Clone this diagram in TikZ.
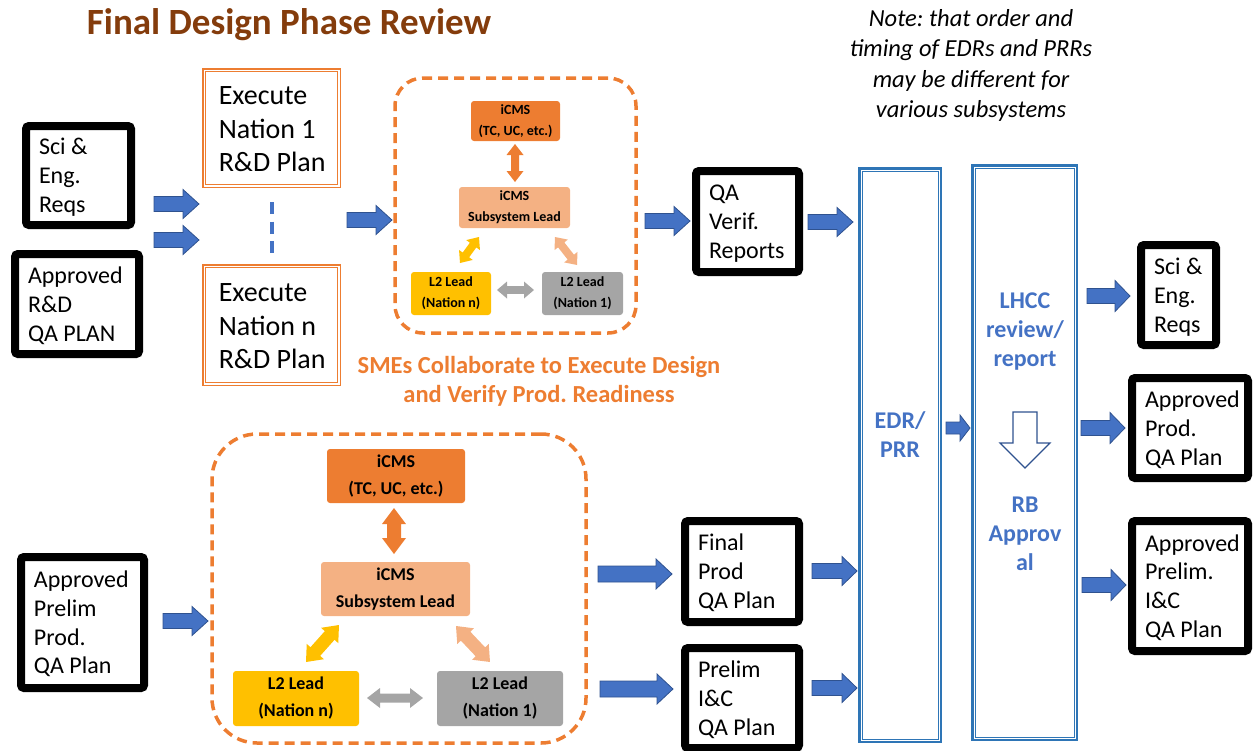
\documentclass[tikz,border=0pt]{standalone}
\usepackage{fontspec}
\setmainfont{Carlito}
\usetikzlibrary{calc}
\frenchspacing

\definecolor{titlebrown}{HTML}{843C0C}
\definecolor{accent}{HTML}{ED7D31}
\definecolor{peach}{HTML}{F4B183}
\definecolor{gold}{HTML}{FFC000}
\definecolor{midgray}{HTML}{A5A5A5}
\definecolor{arrowblue}{HTML}{4472C4}
\definecolor{arrowedge}{HTML}{2F528F}
\definecolor{colblue}{HTML}{2E75B6}

% left-aligned stack of lines in a box of fixed width, lowered slightly
% (the reported height and depth stay those of the unlowered stack)
\newcommand\leftlines[3][-2.5pt]{\raisebox{#1}[\height][\depth]{\makebox[#2][l]{\begin{tabular}{@{}l@{}}#3\end{tabular}}}}

\tikzset{
  blackbox/.style={draw=black, line width=8pt, rounded corners=3pt, fill=white,
    inner xsep=13pt, inner ysep=0pt, font=\fontsize{24}{28.8}\selectfont},
  execbox/.style={draw=accent, line width=1.5pt, fill=white,
    inner xsep=16pt, inner ysep=0pt, font=\fontsize{28}{33.5}\selectfont},
  innerline/.style={draw=accent, line width=1pt},
  dashbox/.style={draw=accent, line width=3.5pt, dash pattern=on 10pt off 6pt},
  rolebox/.style={rounded corners=3pt, inner sep=0pt, align=flush center},
  smallrole/.style={rolebox, font=\fontsize{14}{21}\selectfont\bfseries},
  bigrole/.style={rolebox, font=\fontsize{18}{27}\selectfont\bfseries},
  column/.style={draw=colblue, line width=2.5pt},
  colinner/.style={draw=colblue, line width=1pt},
  coltext/.style={text=arrowblue, font=\fontsize{24}{29}\selectfont\bfseries, align=flush center},
  barrow/.style={fill=arrowblue, draw=arrowedge, line width=0.8pt},
  sepline/.style={draw=arrowblue, line width=4pt, dash pattern=on 12pt off 7.5pt},
}

% block arrow pointing right: x1, x2, y, shaft half, head half, head length
\newcommand\rarrow[6]{%
  \filldraw[barrow] (#1,{#3+#4}) -- ({#2-#6},{#3+#4}) -- ({#2-#6},{#3+#5})
    -- (#2,#3) -- ({#2-#6},{#3-#5}) -- ({#2-#6},{#3-#4}) -- (#1,{#3-#4}) -- cycle;}

% two-headed block arrow: style, x1, y1, x2, y2, shaft half, head half, head length
\newcommand\twoway[8]{%
  \pgfmathsetmacro\twA{atan2((#5)-(#3),(#4)-(#2))}%
  \pgfmathsetmacro\twL{veclen((#4)-(#2),(#5)-(#3))}%
  \begin{scope}[shift={(#2,#3)},rotate=\twA]
    \fill[#1] (0,0) -- (#8,#7) -- (#8,#6) -- ({\twL-#8},#6) -- ({\twL-#8},#7)
      -- (\twL,0) -- ({\twL-#8},-#7) -- ({\twL-#8},-#6) -- (#8,-#6) -- (#8,-#7) -- cycle;
  \end{scope}}

\begin{document}
\begin{tikzpicture}[x=1pt,y=1pt]
\useasboundingbox (0,0) rectangle (1256,-750);

% title and note
\node[font=\fontsize{37}{44}\selectfont\bfseries, text=titlebrown] (title) at (289,-25) {Final Design Phase Review};
\node[font=\fontsize{24.5}{30.5}\selectfont\itshape, align=flush center] (note) at (971,-65.5)
  {Note: that order and\\timing of EDRs and PRRs\\may be different for\\various subsystems};

% inputs, upper flow
\node[blackbox, minimum height=99pt] (sci) at (78.5,-175.5) {\leftlines{79pt}{Sci \&\\Eng.\\Reqs}};
\node[blackbox, minimum height=100pt] (rdqa) at (77,-304) {\leftlines{98pt}{Approved\\R\&D\\QA PLAN}};

% national R&D plans
\node[execbox, minimum height=118.5pt] (exec1) at (271.5,-128) {\leftlines[-3.5pt]{105.5pt}{Execute\\Nation 1\\R\&D Plan}};
\node[execbox, minimum height=120.5pt] (execn) at (271.5,-325) {\leftlines[-3.5pt]{105.5pt}{Execute\\Nation n\\R\&D Plan}};
\draw[innerline] ([shift={(3.5,-3.5)}]exec1.north west) rectangle ([shift={(-3.5,3.5)}]exec1.south east);
\draw[innerline] ([shift={(3.5,-3.5)}]execn.north west) rectangle ([shift={(-3.5,3.5)}]execn.south east);
\draw[sepline, shorten <=14pt, shorten >=11pt] (exec1.south) -- (execn.north);

% upper collaboration group
\node[dashbox, rounded corners=28pt, minimum width=241pt, minimum height=255pt] (collab1) at (515.5,-205.5) {};
\node[smallrole, fill=accent, minimum width=89pt, minimum height=40pt] (icmsA) at (515.5,-121) {iCMS\\(TC, UC, etc.)};
\node[smallrole, fill=peach, minimum width=111pt, minimum height=41pt] (subA) at (514.5,-207.5) {iCMS\\Subsystem Lead};
\node[smallrole, fill=gold, minimum width=80pt, minimum height=43pt] (l2nA) at (451,-293.5) {L2 Lead\\(Nation n)};
\node[smallrole, fill=midgray, minimum width=81pt, minimum height=43pt] (l21A) at (582.5,-293.5) {L2 Lead\\(Nation 1)};
\twoway{fill=accent}{515}{-144}{515}{-182}{4}{8.5}{11}
\twoway{fill=gold}{460}{-263}{479}{-237}{4}{8.5}{10}
\twoway{fill=peach}{555}{-237}{577}{-265}{4}{8.5}{10}
\twoway{fill=midgray}{497}{-290}{534}{-290}{3.8}{8.5}{10}
\node[font=\fontsize{24.5}{29}\selectfont\bfseries, text=accent, align=flush center] (smes) at (539,-381.5)
  {SMEs Collaborate to Execute Design\\and Verify Prod. Readiness};

\node[blackbox, minimum height=101pt] (qav) at (747.5,-221.5) {\leftlines{77pt}{QA\\Verif.\\Reports}};

% lower flow
\node[blackbox, minimum height=131pt] (prelimprod) at (82.5,-622.5) {\leftlines{97pt}{Approved\\Prelim\\Prod.\\QA Plan}};
\node[dashbox, rounded corners=45pt, minimum width=374pt, minimum height=309pt] (collab2) at (399,-588.5) {};
\node[bigrole, fill=accent, minimum width=138pt, minimum height=54pt] (icmsB) at (396,-476) {iCMS\\(TC, UC, etc.)};
\node[bigrole, fill=peach, minimum width=149pt, minimum height=54pt] (subB) at (395.5,-589) {iCMS\\Subsystem Lead};
\node[bigrole, fill=gold, minimum width=126pt, minimum height=55pt] (l2nB) at (296,-698.5) {L2 Lead\\(Nation n)};
\node[bigrole, fill=midgray, minimum width=126pt, minimum height=55pt] (l21B) at (500,-698.5) {L2 Lead\\(Nation 1)};
\twoway{fill=accent}{394}{-508}{394}{-554}{7}{12}{16}
\twoway{fill=gold}{306}{-662}{339}{-625}{6.5}{11.5}{14}
\twoway{fill=peach}{456}{-626}{490}{-662}{6.5}{11.5}{14}
\twoway{fill=midgray}{367}{-698}{423}{-698}{4.5}{10}{13}

\node[blackbox, minimum height=101pt] (finalprod) at (742,-571.5) {\leftlines{88pt}{Final\\Prod\\QA Plan}};
\node[blackbox, minimum height=100pt] (prelimic) at (742,-698) {\leftlines{88pt}{Prelim\\I\&C\\QA Plan}};

% review columns
\node[column, minimum width=81.5pt, minimum height=573.5pt] (edr) at (900,-455) {};
\draw[colinner] ([shift={(4,-4)}]edr.north west) rectangle ([shift={(-4,4)}]edr.south east);
\node[column, minimum width=104.5pt, minimum height=574.5pt] (lhcc) at (1024.5,-452.5) {};
\draw[colinner] ([shift={(4,-4)}]lhcc.north west) rectangle ([shift={(-4,4)}]lhcc.south east);
\node[coltext] (edrtext) at (900,-435) {EDR/\\PRR};
\node[coltext] (lhcctext) at (1025,-332) {LHCC\\review/\\report};
\node[coltext] (rbtext) at (1025,-534) {RB\\Approv\\al};
\draw[arrowedge, line width=1.2pt, fill=white, line join=miter]
  (1013,-412) -- (1037,-412) -- (1037,-443) -- (1050,-443) -- (1025,-468)
  -- (1000,-443) -- (1013,-443) -- cycle;

% outputs
\node[blackbox, minimum height=100pt] (sci2) at (1178.5,-295) {\leftlines{49pt}{Sci \&\\Eng.\\Reqs}};
\node[blackbox, minimum height=100pt] (prod) at (1190,-428) {\leftlines{90pt}{Approved\\Prod.\\QA Plan}};
\node[blackbox, minimum height=130pt] (icqa) at (1190,-586) {\leftlines{90pt}{Approved\\Prelim.\\I\&C\\QA Plan}};

% flow arrows
\rarrow{154}{199}{-204}{7.5}{14.5}{16}
\rarrow{154}{199}{-240}{7.5}{14.5}{16}
\rarrow{347}{392}{-220}{7.5}{14.5}{16}
\rarrow{645}{690}{-221}{7.5}{14.5}{16}
\rarrow{808}{853}{-222}{7.5}{14.5}{16}
\rarrow{946}{970}{-428}{6}{13}{10}
\rarrow{1087}{1130}{-296}{7.5}{15.5}{15}
\rarrow{1081}{1125}{-428}{7.5}{15.5}{15}
\rarrow{1082}{1126}{-585}{7.5}{15.5}{15}
\rarrow{163}{208}{-621}{7.5}{14.5}{16}
\rarrow{598}{672}{-574}{8}{15}{16}
\rarrow{600}{673}{-689}{8}{15}{16}
\rarrow{812}{857}{-571}{7.5}{14.5}{15}
\rarrow{812}{857}{-688}{7.5}{14.5}{15}
\end{tikzpicture}
\end{document}
